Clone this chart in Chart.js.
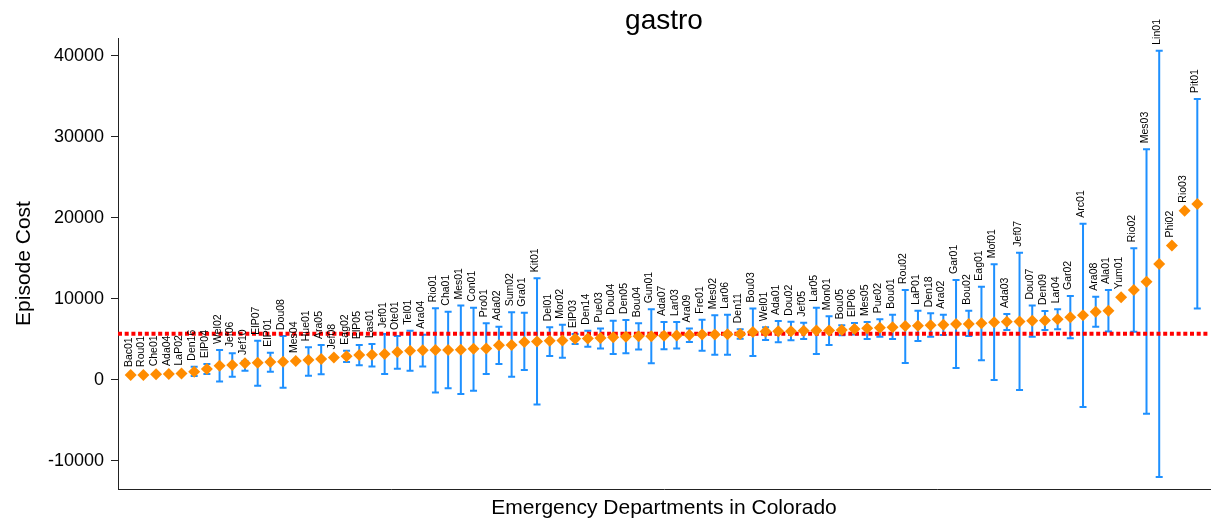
<!DOCTYPE html>
<html>
<head>
<meta charset="utf-8">
<script src="https://cdn.jsdelivr.net/npm/chart.js@4.4.0/dist/chart.umd.min.js"></script>
<style>
  html, body { margin: 0; padding: 0; background: #fff; }
  #wrap { width: 1211px; height: 524px; }
</style>
</head>
<body>
<div id="wrap"><canvas id="chart"></canvas></div>
<script>
// Emergency departments, sorted by mean episode cost
const sites = [
  'Bac01','Rou01','Che01','Ada04','LaP02','Den16','ElP04','Wel02','Jef06','Jef10',
  'ElP07','ElP01','Dou08','Mes04','Hue01','Ara05','Jef08','Eag02','ElP05','Las01',
  'Jef01','Ote01','Tel01','Ara04','Rio01','Cha01','Mes01','Con01','Pro01','Ada02',
  'Sum02','Gra01','Kit01','Del01','Mor02','ElP03','Den14','Pue03','Dou04','Den05',
  'Bou04','Gun01','Ada07','Lar03','Ara09','Fre01','Mes02','Lar06','Den11','Bou03',
  'Wel01','Ada01','Dou02','Jef05','Lar05','Mon01','Bou05','ElP06','Mes05','Pue02',
  'Bou01','Rou02','LaP01','Den18','Ara02','Gar01','Bou02','Eag01','Mof01','Ada03',
  'Jef07','Dou07','Den09','Lar04','Gar02','Arc01','Ara08','Ala01','Yum01','Rio02',
  'Mes03','Lin01','Phi02','Rio03','Pit01'
];

const cost = [
  600, 620, 700, 750, 800, 1020, 1360, 1770, 1850, 2060,
  2140, 2220, 2260, 2345, 2470, 2590, 2760, 2920, 3090, 3100,
  3210, 3460, 3620, 3670, 3700, 3710, 3720, 3870, 3880, 4280,
  4320, 4700, 4750, 4850, 4870, 5100, 5120, 5185, 5270, 5350,
  5390, 5400, 5470, 5480, 5560, 5600, 5610, 5640, 5680, 5930,
  5990, 6010, 6020, 6090, 6095, 6100, 6170, 6300, 6380, 6460,
  6500, 6670, 6710, 6750, 6830, 6910, 6920, 7000, 7120, 7200,
  7210, 7320, 7330, 7490, 7740, 7980, 8430, 8560, 10210, 11110,
  12140, 14320, 16590, 20900, 21730
];

// 95% interval bounds (null = no bar drawn)
const lower = [
  null, null, null, null, null, 500, 740, -200, 410, 1150,
  -700, 1020, -950, null, 530, 700, null, 2220, 1810, 1650,
  740, 1400, 1150, 1650, -1560, -1030, -1730, -1320, 740, 1980,
  410, 1230, -3040, 2960, 2750, 4440, 4110, 3900, 3200, 3290,
  3760, 2060, 3800, 3900, 4700, 3600, 3100, 3100, 5100, 2960,
  4940, 4650, 4900, 5060, 3210, 4320, 5520, 5600, 5060, 5350,
  5060, 2100, 4800, 5350, 5560, 1480, 5430, 2430, 0, 6170,
  -1230, 5350, 6170, 6260, 5140, -3330, 6580, 5970, null, 5960,
  -4160, -11980, null, null, 8810
];

const upper = [
  null, null, null, null, null, 1640, 1975, 3700, 3290, 2345,
  4850, 3370, 5430, null, 4040, 4320, null, 3620, 4320, 4440,
  5680, 5430, 6090, 5590, 8850, 8430, 9180, 8930, 7000, 6580,
  8350, 8310, 12550, 6500, 6830, 5680, 6090, 6340, 7320, 7410,
  7000, 8720, 7160, 7160, 6340, 7450, 7980, 8060, 6260, 8810,
  6500, 7280, 7200, 7080, 8930, 7860, 6750, 7040, 7160, 7490,
  8060, 11110, 8560, 8230, 8060, 12350, 8560, 11520, 14280, 8150,
  15720, 9180, 8520, 8720, 10370, 19300, 10280, 11110, null, 16260,
  28480, 40650, null, null, 34690
];

const benchmark = 5700;
const yTickValues = [-10000, 0, 10000, 20000, 30000, 40000];

const FONT = "'Liberation Sans', Arial, sans-serif";

const errorBars = {
  id: 'errorBars',
  beforeDatasetsDraw(chart) {
    const { ctx, scales: { x, y } } = chart;
    ctx.save();
    ctx.strokeStyle = '#1E90FF';
    ctx.lineWidth = 2;
    sites.forEach((s, i) => {
      if (lower[i] == null) return;
      const px = x.getPixelForValue(i + 1);
      const top = y.getPixelForValue(upper[i]);
      const bot = y.getPixelForValue(lower[i]);
      ctx.beginPath();
      ctx.moveTo(px, top); ctx.lineTo(px, bot);
      ctx.moveTo(px - 3.5, top); ctx.lineTo(px + 3.5, top);
      ctx.moveTo(px - 3.5, bot); ctx.lineTo(px + 3.5, bot);
      ctx.stroke();
    });
    ctx.restore();
  }
};

const siteLabels = {
  id: 'siteLabels',
  afterDatasetsDraw(chart) {
    const { ctx, scales: { x, y } } = chart;
    ctx.save();
    ctx.fillStyle = '#000';
    ctx.font = '10.5px ' + FONT;
    ctx.textAlign = 'left';
    ctx.textBaseline = 'alphabetic';
    sites.forEach((s, i) => {
      const hasBar = upper[i] != null;
      const py = y.getPixelForValue(hasBar ? upper[i] : cost[i]) - (hasBar ? 6 : 8);
      const px = x.getPixelForValue(i + 1) + 1;
      ctx.save();
      ctx.translate(px, py);
      ctx.rotate(-Math.PI / 2);
      ctx.fillText(s, 0, 0);
      ctx.restore();
    });
    ctx.restore();
  }
};

const plotTitle = {
  id: 'plotTitle',
  afterDraw(chart) {
    const { ctx, chartArea } = chart;
    ctx.save();
    ctx.fillStyle = '#000';
    ctx.font = '28px ' + FONT;
    ctx.textAlign = 'center';
    ctx.textBaseline = 'middle';
    ctx.fillText('gastro', (chartArea.left + chartArea.right) / 2, 21);
    ctx.restore();
  }
};

new Chart(document.getElementById('chart'), {
  type: 'scatter',
  data: {
    datasets: [
      {
        label: 'Episode Cost',
        data: sites.map((s, i) => ({ x: i + 1, y: cost[i] })),
        pointStyle: 'rectRot',
        pointRadius: 6,
        pointBackgroundColor: '#FF8C00',
        pointBorderWidth: 0,
        order: 0
      },
      {
        type: 'line',
        label: 'Benchmark',
        data: [{ x: 0, y: benchmark }, { x: 86, y: benchmark }],
        borderColor: '#FF0000',
        borderWidth: 4,
        borderDash: [4, 2.7],
        pointRadius: 0,
        order: 1
      }
    ]
  },
  options: {
    responsive: true,
    maintainAspectRatio: false,
    animation: false,
    layout: { autoPadding: false, padding: { top: 38, right: 1, left: 0, bottom: 0 } },
    plugins: {
      legend: { display: false },
      tooltip: { enabled: false },
      title: { display: false }
    },
    scales: {
      x: {
        type: 'linear',
        min: 0,
        max: 86,
        grid: { display: false },
        border: { display: true, color: '#222', width: 1 },
        ticks: { display: false },
        title: {
          display: true,
          text: 'Emergency Departments in Colorado',
          color: '#000',
          font: { family: FONT, size: 21 },
          padding: { top: 0, bottom: 3 }
        },
        afterFit(scale) { scale.height = 35; }
      },
      y: {
        min: -13460,
        max: 42220,
        grid: { display: true, drawOnChartArea: false, drawTicks: true, tickLength: 7, color: '#222' },
        border: { display: true, color: '#222', width: 1 },
        afterBuildTicks(scale) {
          scale.ticks = yTickValues.map(v => ({ value: v }));
        },
        ticks: {
          padding: 7,
          color: '#000',
          font: { family: FONT, size: 18 },
          callback: v => String(v)
        },
        title: {
          display: true,
          text: 'Episode Cost',
          color: '#000',
          font: { family: FONT, size: 21 },
          padding: { top: 12, bottom: 0 }
        },
        afterFit(scale) { scale.width = 118; }
      }
    }
  },
  plugins: [errorBars, siteLabels, plotTitle]
});
</script>
</body>
</html>
